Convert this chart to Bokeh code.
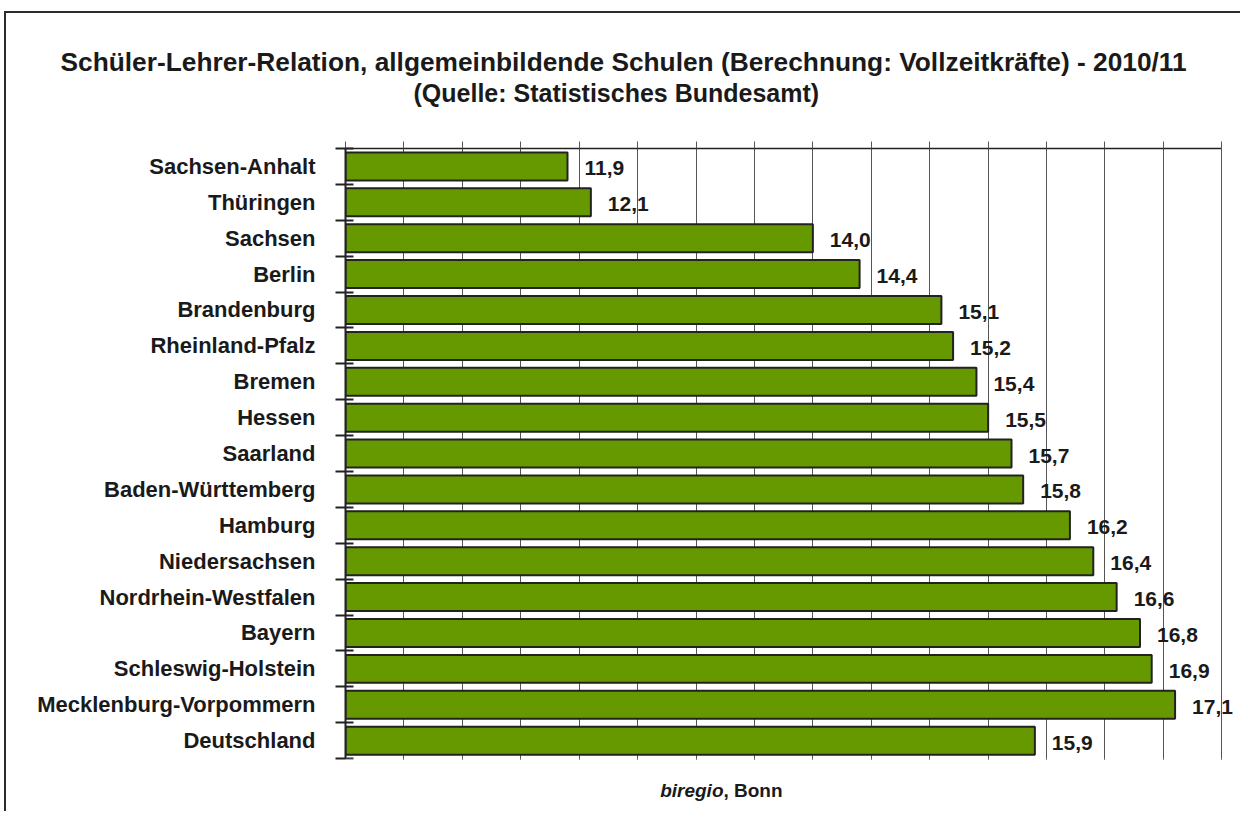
from bokeh.plotting import figure
from bokeh.models import (Range1d, FixedTicker, SingleIntervalTicker, ColumnDataSource,
                          LabelSet, Label, Title, BoxAnnotation)
from bokeh.core.properties import value
from bokeh.embed import file_html
from bokeh.resources import INLINE

# ---- data ----
laender = ["Sachsen-Anhalt", "Thüringen", "Sachsen", "Berlin", "Brandenburg",
           "Rheinland-Pfalz", "Bremen", "Hessen", "Saarland", "Baden-Württemberg",
           "Hamburg", "Niedersachsen", "Nordrhein-Westfalen", "Bayern",
           "Schleswig-Holstein", "Mecklenburg-Vorpommern", "Deutschland"]
werte = [11.9, 12.1, 14.0, 14.4, 15.1, 15.2, 15.4, 15.5, 15.7, 15.8,
         16.2, 16.4, 16.6, 16.8, 16.9, 17.1, 15.9]
x_start, x_end, x_step = 10.0, 17.5, 0.5

title_text = "Schüler-Lehrer-Relation, allgemeinbildende Schulen (Berechnung: Vollzeitkräfte) - 2010/11"
subtitle_text = "(Quelle: Statistisches Bundesamt)"
credit_italic, credit_rest = "biregio", ", Bonn"

FONT = "Liberation Sans"
n = len(laender)
pos = [i + 0.5 for i in range(n)]
labels_txt = [f"{v:.1f}".replace(".", ",") for v in werte]

src = ColumnDataSource(dict(y=pos, right=werte, left=[x_start] * n, txt=labels_txt))

p = figure(width=1236, height=800, output_backend="svg", toolbar_location=None,
           x_range=Range1d(x_start, x_end + 0.1), y_range=Range1d(n + 1.53, 0),
           x_axis_location="above", min_border_left=339, min_border_right=9,
           min_border_top=135, min_border_bottom=0)
p.styles = {"border-top": "2px solid #2b2b2b", "border-left": "2px solid #2b2b2b",
            "margin-top": "11px", "margin-left": "4px"}
p.outline_line_color = None
p.background_fill_color = "white"
p.border_fill_color = "white"

# bars
p.hbar(y="y", left="left", right="right", height=0.78, source=src,
       fill_color="#669900", line_color="#222222", line_width=2)

# white area below the last category (keeps grid lines to the category block)
p.add_layout(BoxAnnotation(top=n + 0.04, bottom=n + 3, fill_color="white", fill_alpha=1.0,
                           line_color="white", line_width=3))

# value labels
p.add_layout(LabelSet(x="right", y="y", text="txt", source=src, x_offset=17, y_offset=-2,
                      text_font=value(FONT), text_font_style="bold", text_font_size="21px",
                      text_color="#1a1a1a", text_baseline="middle", text_align="left"))

# x axis (top): only line & outward ticks
xa = p.xaxis[0]
xa.ticker = SingleIntervalTicker(interval=x_step)
xa.bounds = (x_start, x_end)
xa.major_label_text_font_size = "0px"
xa.major_label_text_color = None
xa.major_label_standoff = 0
xa.major_tick_out = 7
xa.major_tick_in = 0
xa.minor_tick_line_color = None
xa.axis_line_color = "#222222"
xa.axis_line_width = 1.5
xa.major_tick_line_color = "#555555"

p.xgrid.ticker = SingleIntervalTicker(interval=x_step)
p.xgrid.bounds = (x_start, x_end)
p.xgrid.grid_line_color = "#555555"
p.xgrid.grid_line_width = 1
p.ygrid.grid_line_color = None

# y axis: labels at centers, ticks at boundaries
ya = p.yaxis[0]
ya.ticker = FixedTicker(ticks=pos, minor_ticks=list(range(n + 1)))
ya.bounds = (0, n)
ya.major_label_overrides = {pp: name for pp, name in zip(pos, laender)}
ya.major_tick_in = 0
ya.major_tick_out = 0
ya.minor_tick_in = 8
ya.minor_tick_out = 10
ya.minor_tick_line_color = "#222222"
ya.minor_tick_line_width = 2
ya.axis_line_color = "#222222"
ya.axis_line_width = 2
ya.major_label_standoff = 20
ya.major_label_text_font = FONT
ya.major_label_text_font_style = "bold"
ya.major_label_text_font_size = "22px"
ya.major_label_text_color = "#1a1a1a"

# spacer between axis and titles
p.add_layout(Title(text=" ", text_font_size="1px", standoff=32), "above")
# titles
p.add_layout(Title(text=subtitle_text, align="left", offset=68, standoff=0,
                   text_font=FONT, text_font_style="bold", text_font_size="25px",
                   text_color="#1a1a1a"), "above")
p.add_layout(Title(text=title_text, align="left", offset=-285, standoff=-1,
                   text_font=FONT, text_font_style="bold", text_font_size="26.3px",
                   text_color="#1a1a1a"), "above")

# credit line
credit_x = 13.235
credit_y = n + 0.9
p.add_layout(Label(x=credit_x, y=credit_y, text=credit_italic,
                   text_font=FONT, text_font_style="bold italic", text_font_size="19px",
                   text_align="right", text_baseline="alphabetic", text_color="#1a1a1a"))
p.add_layout(Label(x=credit_x, y=credit_y, text=credit_rest,
                   text_font=FONT, text_font_style="bold", text_font_size="19px",
                   text_align="left", text_baseline="alphabetic", text_color="#1a1a1a"))

open("out.html", "w").write(file_html(p, INLINE))
